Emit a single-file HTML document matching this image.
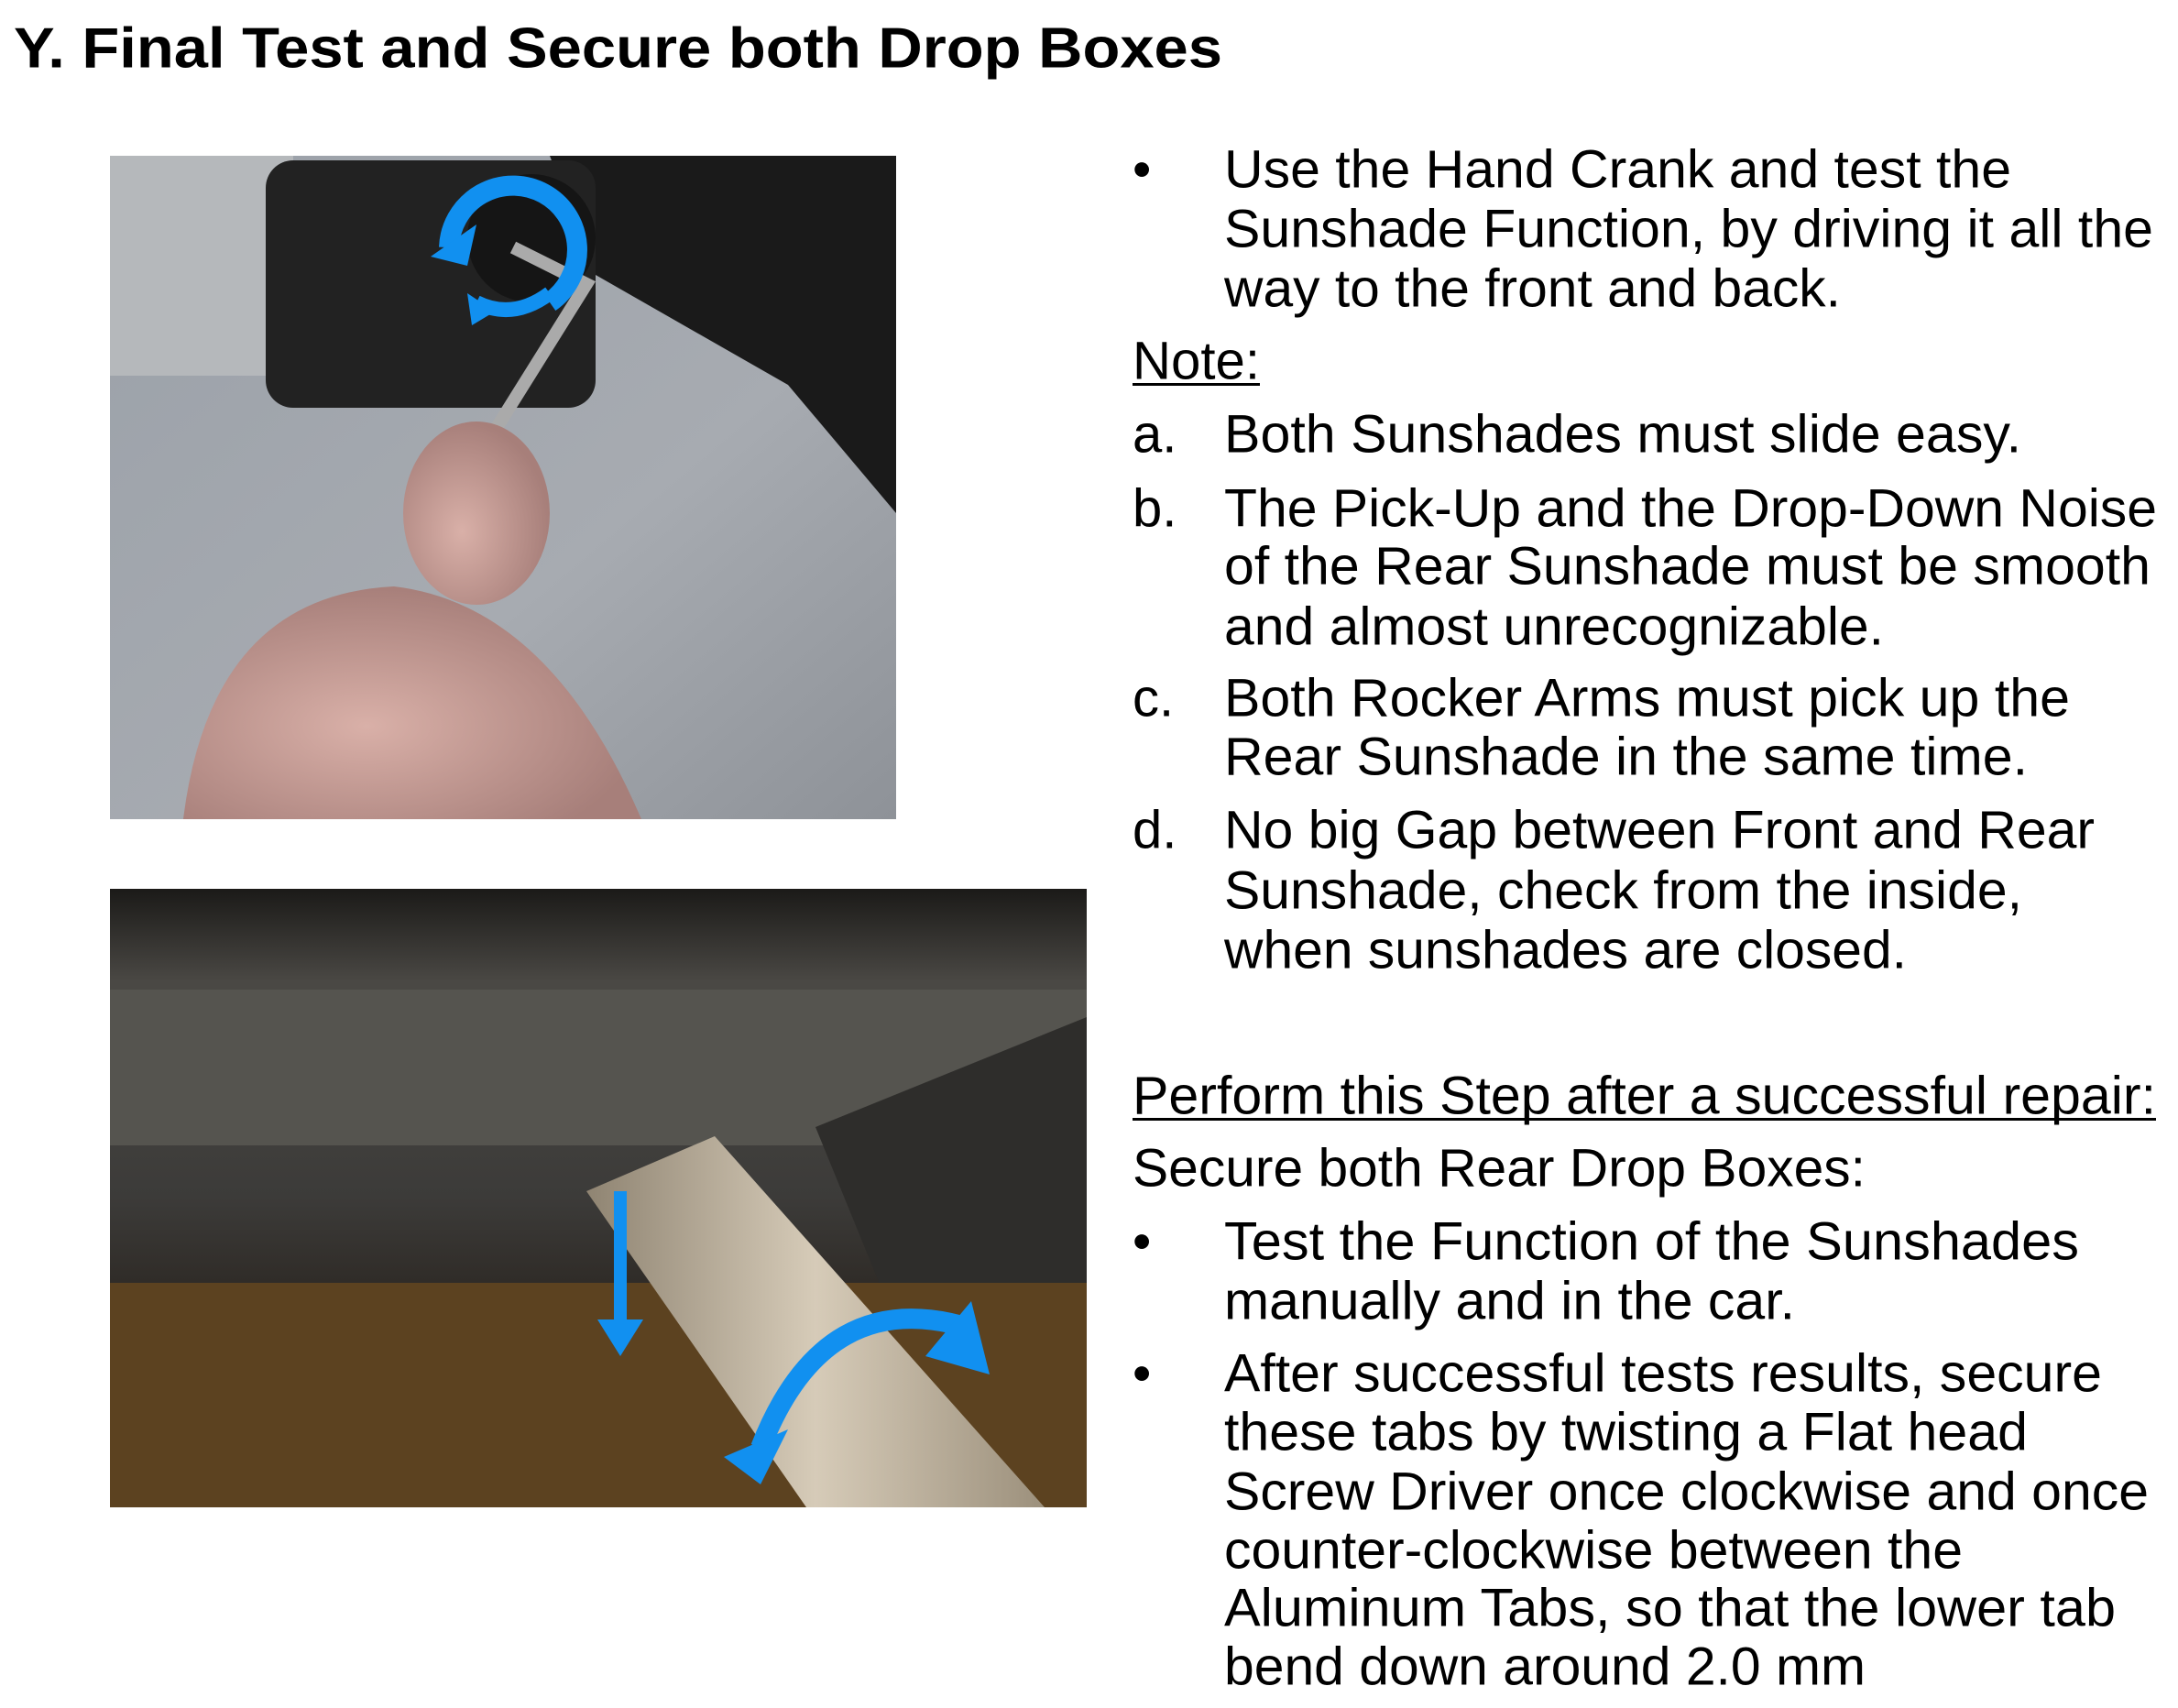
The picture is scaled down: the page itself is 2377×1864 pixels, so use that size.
<!DOCTYPE html>
<html><head><meta charset="utf-8"><style>
html,body{margin:0;padding:0;background:#fff;width:2377px;height:1864px;overflow:hidden}
svg{display:block}
text{font-family:"Liberation Sans",Arial,sans-serif;fill:#000}
</style></head><body>
<svg width="2377" height="1864" viewBox="0 0 2377 1864">
<defs>
<linearGradient id="g1" x1="0" y1="0" x2="1" y2="1"><stop offset="0" stop-color="#9aa0a8"/><stop offset="0.6" stop-color="#a7abb1"/><stop offset="1" stop-color="#8e9298"/></linearGradient>
<radialGradient id="hand" cx="0.4" cy="0.6" r="0.6"><stop offset="0" stop-color="#d9b0a8"/><stop offset="1" stop-color="#a77f7a"/></radialGradient>
<linearGradient id="g2" x1="0" y1="0" x2="0" y2="1"><stop offset="0" stop-color="#1b1a18"/><stop offset="0.15" stop-color="#4a4844"/><stop offset="0.5" stop-color="#3c3b39"/><stop offset="0.7" stop-color="#2a2520"/><stop offset="1" stop-color="#6b4a20"/></linearGradient>
<linearGradient id="rod" x1="0" y1="0" x2="1" y2="0"><stop offset="0" stop-color="#8f8472"/><stop offset="0.5" stop-color="#d6cbb8"/><stop offset="1" stop-color="#9c907c"/></linearGradient>
</defs>
<text x="15" y="53" font-size="62" font-weight="bold" dominant-baseline="central" textLength="1319" lengthAdjust="spacingAndGlyphs">Y. Final Test and Secure both Drop Boxes</text>

<g>
<rect x="120" y="170" width="858" height="724" fill="url(#g1)"/>
<polygon points="600,170 978,170 978,560 860,420 650,300" fill="#1a1a1a"/>
<rect x="120" y="170" width="200" height="240" fill="#b5b8bb"/>
<rect x="290" y="175" width="360" height="270" rx="30" fill="#222"/>
<circle cx="580" cy="260" r="70" fill="#151515"/>
<path d="M560 270 L640 310 L540 470" stroke="#aaa" stroke-width="14" fill="none"/>
<ellipse cx="520" cy="560" rx="80" ry="100" fill="url(#hand)"/>
<path d="M200 894 Q230 650 430 640 Q600 660 700 894 Z" fill="url(#hand)"/>
<path d="M490 270 A70 70 0 1 1 600 330" stroke="#1190f0" stroke-width="22" fill="none"/>
<polygon points="470,280 520,245 510,290" fill="#1190f0"/>
<path d="M520 330 Q560 350 600 320" stroke="#1190f0" stroke-width="16" fill="none"/>
<polygon points="510,320 540,340 515,355" fill="#1190f0"/>
</g>

<g>
<rect x="120" y="970" width="1066" height="675" fill="url(#g2)"/>
<rect x="120" y="1080" width="1066" height="170" fill="#55544f"/>
<polygon points="890,1230 1186,1110 1186,1450 980,1450" fill="#2e2d2b"/>
<rect x="120" y="1400" width="1066" height="245" fill="#5c4220"/>
<polygon points="640,1300 780,1240 1140,1645 880,1645" fill="url(#rod)"/>
<rect x="670" y="1300" width="14" height="150" fill="#1190f0"/>
<polygon points="652,1440 702,1440 677,1480" fill="#1190f0"/>
<path d="M830 1580 Q900 1400 1060 1450" stroke="#1190f0" stroke-width="22" fill="none"/>
<polygon points="790,1590 860,1560 830,1620" fill="#1190f0"/>
<polygon points="1060,1420 1080,1500 1010,1480" fill="#1190f0"/>
</g>

<g font-size="58">
<text x="1236" y="185" dominant-baseline="central">•</text>
<text x="1336" y="185" dominant-baseline="central" textLength="859" lengthAdjust="spacingAndGlyphs">Use the Hand Crank and test the</text>
<text x="1336" y="250" dominant-baseline="central" textLength="1014" lengthAdjust="spacingAndGlyphs">Sunshade Function, by driving it all the</text>
<text x="1336" y="315" dominant-baseline="central" textLength="673" lengthAdjust="spacingAndGlyphs">way to the front and back.</text>
<text x="1236" y="394" dominant-baseline="central" textLength="139" lengthAdjust="spacingAndGlyphs">Note:</text>
<rect x="1236" y="418" width="139" height="3" fill="#000"/>
<text x="1236" y="474" dominant-baseline="central">a.</text>
<text x="1336" y="474" dominant-baseline="central" textLength="870" lengthAdjust="spacingAndGlyphs">Both Sunshades must slide easy.</text>
<text x="1236" y="555" dominant-baseline="central">b.</text>
<text x="1336" y="555" dominant-baseline="central" textLength="1018" lengthAdjust="spacingAndGlyphs">The Pick-Up and the Drop-Down Noise</text>
<text x="1336" y="618" dominant-baseline="central" textLength="1011" lengthAdjust="spacingAndGlyphs">of the Rear Sunshade must be smooth</text>
<text x="1336" y="684" dominant-baseline="central" textLength="720" lengthAdjust="spacingAndGlyphs">and almost unrecognizable.</text>
<text x="1236" y="762" dominant-baseline="central">c.</text>
<text x="1336" y="762" dominant-baseline="central" textLength="923" lengthAdjust="spacingAndGlyphs">Both Rocker Arms must pick up the</text>
<text x="1336" y="826" dominant-baseline="central" textLength="877" lengthAdjust="spacingAndGlyphs">Rear Sunshade in the same time.</text>
<text x="1236" y="906" dominant-baseline="central">d.</text>
<text x="1336" y="906" dominant-baseline="central" textLength="950" lengthAdjust="spacingAndGlyphs">No big Gap between Front and Rear</text>
<text x="1336" y="972" dominant-baseline="central" textLength="871" lengthAdjust="spacingAndGlyphs">Sunshade, check from the inside,</text>
<text x="1336" y="1037" dominant-baseline="central" textLength="745" lengthAdjust="spacingAndGlyphs">when sunshades are closed.</text>
<text x="1236" y="1196" dominant-baseline="central" textLength="1117" lengthAdjust="spacingAndGlyphs">Perform this Step after a successful repair:</text>
<rect x="1236" y="1220" width="1117" height="3" fill="#000"/>
<text x="1236" y="1275" dominant-baseline="central" textLength="800" lengthAdjust="spacingAndGlyphs">Secure both Rear Drop Boxes:</text>
<text x="1236" y="1355" dominant-baseline="central">•</text>
<text x="1336" y="1355" dominant-baseline="central" textLength="933" lengthAdjust="spacingAndGlyphs">Test the Function of the Sunshades</text>
<text x="1336" y="1420" dominant-baseline="central" textLength="623" lengthAdjust="spacingAndGlyphs">manually and in the car.</text>
<text x="1236" y="1499" dominant-baseline="central">•</text>
<text x="1336" y="1499" dominant-baseline="central" textLength="958" lengthAdjust="spacingAndGlyphs">After successful tests results, secure</text>
<text x="1336" y="1563" dominant-baseline="central" textLength="877" lengthAdjust="spacingAndGlyphs">these tabs by twisting a Flat head</text>
<text x="1336" y="1628" dominant-baseline="central" textLength="1009" lengthAdjust="spacingAndGlyphs">Screw Driver once clockwise and once</text>
<text x="1336" y="1692" dominant-baseline="central" textLength="806" lengthAdjust="spacingAndGlyphs">counter-clockwise between the</text>
<text x="1336" y="1755" dominant-baseline="central" textLength="973" lengthAdjust="spacingAndGlyphs">Aluminum Tabs, so that the lower tab</text>
<text x="1336" y="1819" dominant-baseline="central" textLength="700" lengthAdjust="spacingAndGlyphs">bend down around 2.0 mm</text>
</g>
</svg>
</body></html>
